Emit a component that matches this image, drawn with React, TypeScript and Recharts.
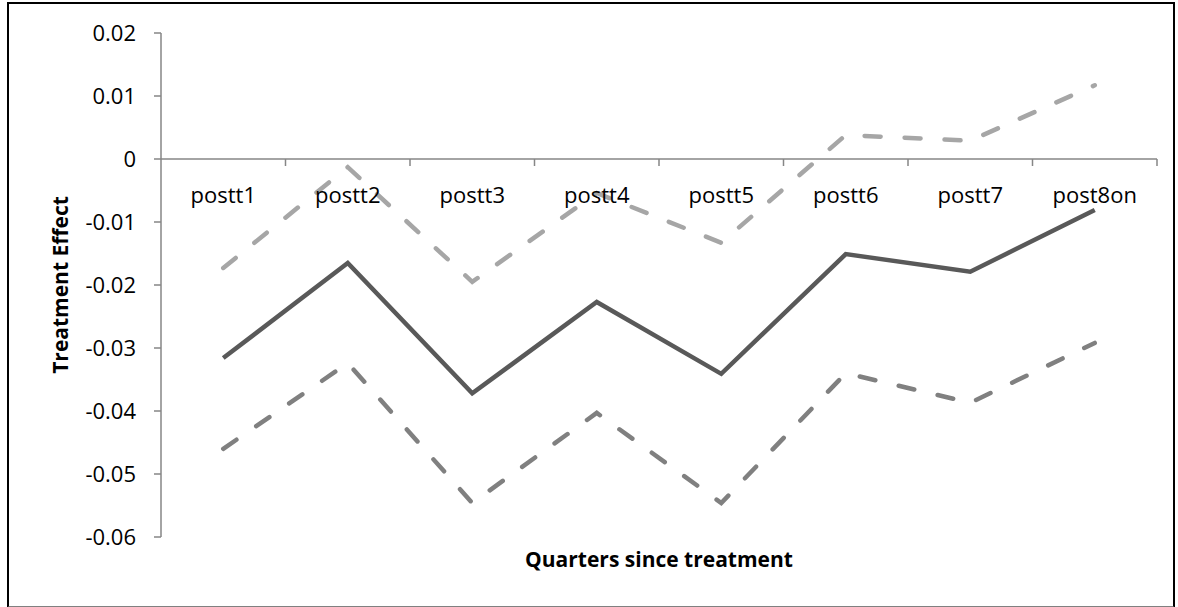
import React from 'react';
import { LineChart, Line, XAxis, YAxis, ReferenceLine, ReferenceDot } from 'recharts';

const categories = ['postt1', 'postt2', 'postt3', 'postt4', 'postt5', 'postt6', 'postt7', 'post8on'];
const estimate = [-0.0316, -0.0165, -0.0372, -0.0227, -0.0341, -0.0151, -0.0179, -0.0081];
const upperBound = [-0.0173, -0.0013, -0.0195, -0.0054, -0.0133, 0.0038, 0.0029, 0.0117];
const lowerBound = [-0.046, -0.0324, -0.0546, -0.0403, -0.0546, -0.034, -0.0387, -0.0292];
const yTicks = [-0.06, -0.05, -0.04, -0.03, -0.02, -0.01, 0, 0.01, 0.02];

const data = categories.map((c, i) => ({
  cat: c,
  est: estimate[i],
  hi: upperBound[i],
  lo: lowerBound[i],
}));

const W = 1178;
const H = 607;
const MARGIN = { top: 33, right: 21, bottom: 0, left: 0 };
const YAXIS_W = 161;
const XAXIS_H = 70;
const PLOT_W = W - MARGIN.left - MARGIN.right - YAXIS_W;
const HALF_BAND = PLOT_W / categories.length / 2;
const FONT = '"Open Sans", "Noto Sans", sans-serif';
const AXIS_COLOR = '#868686';

const fmt = (v: number) => (Math.abs(v) < 1e-9 ? '0' : v.toFixed(2));

const CatLabel = (props: any) => {
  const { cx, cy, label } = props;
  if (cx == null || cy == null) return null;
  return (
    <g>
      <line x1={cx + HALF_BAND} x2={cx + HALF_BAND} y1={cy} y2={cy + 7} stroke={AXIS_COLOR} strokeWidth={1.5} />
      <text x={cx} y={cy + 44} textAnchor="middle" fontFamily={FONT} fontSize={22} fill="#000">
        {label}
      </text>
    </g>
  );
};

export default function App() {
  return (
    <div style={{ position: 'absolute', left: 0, top: 0, width: W, height: H, background: '#fff' }}>
      <div
        style={{
          position: 'absolute',
          left: 7,
          top: 2,
          width: 1164,
          height: 602,
          borderLeft: '2px solid #000',
          borderTop: '2px solid #000',
          borderRight: '2px solid #000',
          borderBottom: '2px solid #808080',
        }}
      />
      <div style={{ position: 'absolute', left: 0, top: 0 }}>
        <LineChart width={W} height={H} data={data} margin={MARGIN}>
          <XAxis
            dataKey="cat"
            type="category"
            scale="band"
            axisLine={false}
            tickLine={false}
            tick={false}
            height={XAXIS_H}
            label={{
              content: (p: any) => {
                const vb = p.viewBox || {};
                return (
                  <text
                    x={vb.x + vb.width / 2}
                    y={vb.y + 30}
                    textAnchor="middle"
                    fontFamily={FONT}
                    fontWeight="bold"
                    fontSize={21}
                    fill="#000"
                  >
                    Quarters since treatment
                  </text>
                );
              },
            }}
          />
          <YAxis
            type="number"
            domain={[-0.06, 0.02]}
            ticks={yTicks}
            interval={0}
            width={YAXIS_W}
            tickFormatter={fmt}
            axisLine={{ stroke: AXIS_COLOR, strokeWidth: 1.5 }}
            tickLine={{ stroke: AXIS_COLOR, strokeWidth: 1.5 }}
            tickSize={7}
            tickMargin={18}
            tick={{ fill: '#000', fontSize: 22, fontFamily: FONT }}
            label={{
              content: (p: any) => {
                const vb = p.viewBox || {};
                const cx = vb.x + 68;
                const cy = vb.y + vb.height / 2;
                return (
                  <text
                    x={cx}
                    y={cy}
                    transform={`rotate(-90, ${cx}, ${cy})`}
                    textAnchor="middle"
                    fontFamily={FONT}
                    fontWeight="bold"
                    fontSize={21}
                    fill="#000"
                  >
                    Treatment Effect
                  </text>
                );
              },
            }}
          />
          <ReferenceLine y={0} stroke={AXIS_COLOR} strokeWidth={1.5} />
          {categories.map((c) => (
            <ReferenceDot key={c} x={c} y={0} r={0} shape={(p: any) => <CatLabel {...p} label={c} />} />
          ))}
          <Line
            dataKey="hi"
            stroke="#A6A6A6"
            strokeWidth={4.5}
            strokeDasharray="16 24"
            strokeLinecap="round"
            dot={false}
            activeDot={false}
            isAnimationActive={false}
          />
          <Line
            dataKey="lo"
            stroke="#808080"
            strokeWidth={4.5}
            strokeDasharray="16 24"
            strokeLinecap="round"
            dot={false}
            activeDot={false}
            isAnimationActive={false}
          />
          <Line
            dataKey="est"
            stroke="#595959"
            strokeWidth={4.5}
            dot={false}
            activeDot={false}
            isAnimationActive={false}
          />
        </LineChart>
      </div>
    </div>
  );
}
